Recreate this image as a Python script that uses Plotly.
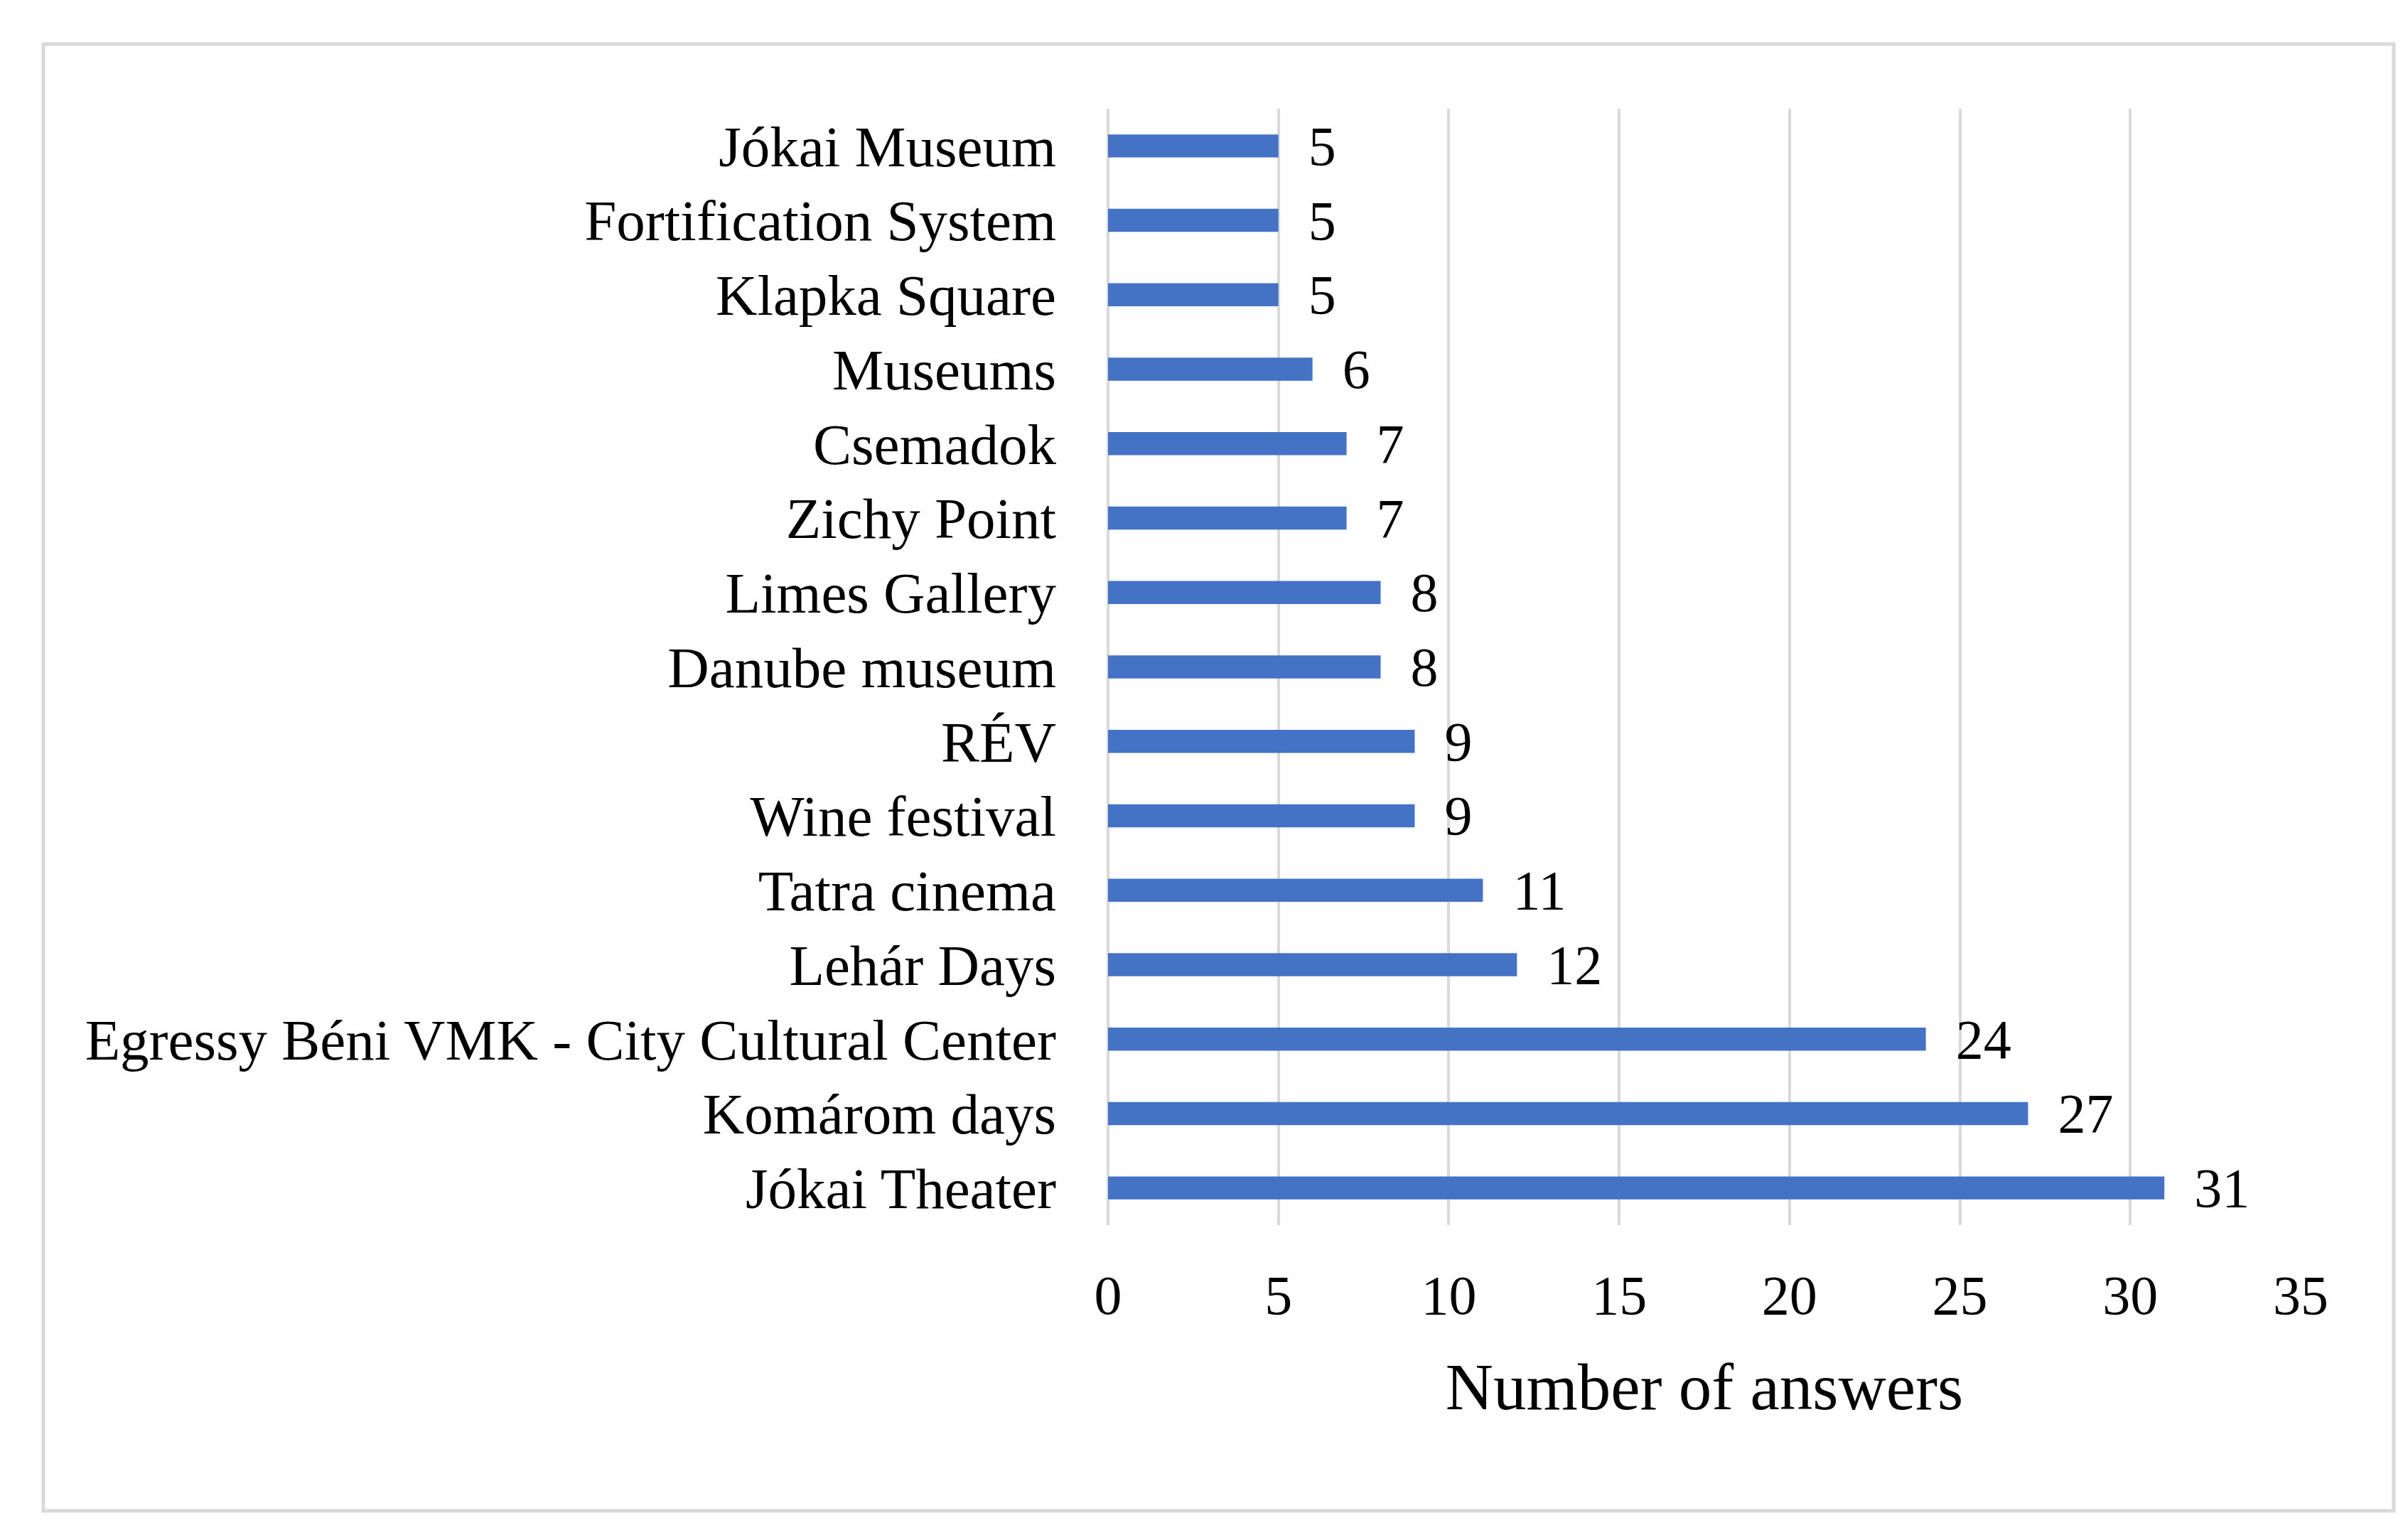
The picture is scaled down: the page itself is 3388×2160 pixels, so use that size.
import plotly.graph_objects as go

# Data (top to bottom)
places = [
    'Jókai Museum', 'Fortification System', 'Klapka Square', 'Museums',
    'Csemadok', 'Zichy Point', 'Limes Gallery', 'Danube museum', 'RÉV',
    'Wine festival', 'Tatra cinema', 'Lehár Days',
    'Egressy Béni VMK - City Cultural Center', 'Komárom days', 'Jókai Theater'
]
answers = [5, 5, 5, 6, 7, 7, 8, 8, 9, 9, 11, 12, 24, 27, 31]
x_ticks = [0, 5, 10, 15, 20, 25, 30, 35]

W, H = 3388, 2160
ml, mr, mt, mb = 1551, 159, 145, 444
font = 'Liberation Serif'

fig = go.Figure()

fig.add_trace(go.Bar(
    x=answers,
    y=places,
    orientation='h',
    width=0.31,
    marker=dict(color='#4472c4', line=dict(width=0)),
    texttemplate='\u00a0\u00a0%{x}',
    textposition='outside',
    constraintext='none',
    cliponaxis=False,
    textfont=dict(family=font, size=78, color='black'),
))

# light grey frame round the whole chart
pw = W - ml - mr
ph = H - mt - mb
def px(v):
    return (v - ml) / pw
def py(v):
    return (H - mb - v) / ph

fig.add_shape(type='rect', xref='paper', yref='paper',
              x0=px(53), x1=px(3360), y0=py(2118), y1=py(54),
              line=dict(color='#d9d9d9', width=5), layer='below')

fig.update_layout(
    width=W, height=H,
    margin=dict(l=ml, r=mr, t=mt, b=mb),
    plot_bgcolor='white',
    paper_bgcolor='white',
    showlegend=False,
    font=dict(family=font, color='black'),
    xaxis=dict(
        range=[0, 35],
        tickvals=x_ticks,
        showgrid=True,
        gridcolor='#d9d9d9',
        gridwidth=4,
        zeroline=True,
        zerolinecolor='#d9d9d9',
        zerolinewidth=4,
        showline=False,
        tickfont=dict(family=font, size=78),
        ticklabelstandoff=46,
        title=dict(text='Number of answers', font=dict(family=font, size=93), standoff=52),
    ),
    yaxis=dict(
        autorange='reversed',
        showgrid=False,
        zeroline=False,
        showline=False,
        tickfont=dict(family=font, size=81),
        ticklabelstandoff=72,
    ),
)

fig.write_html('out.html')
